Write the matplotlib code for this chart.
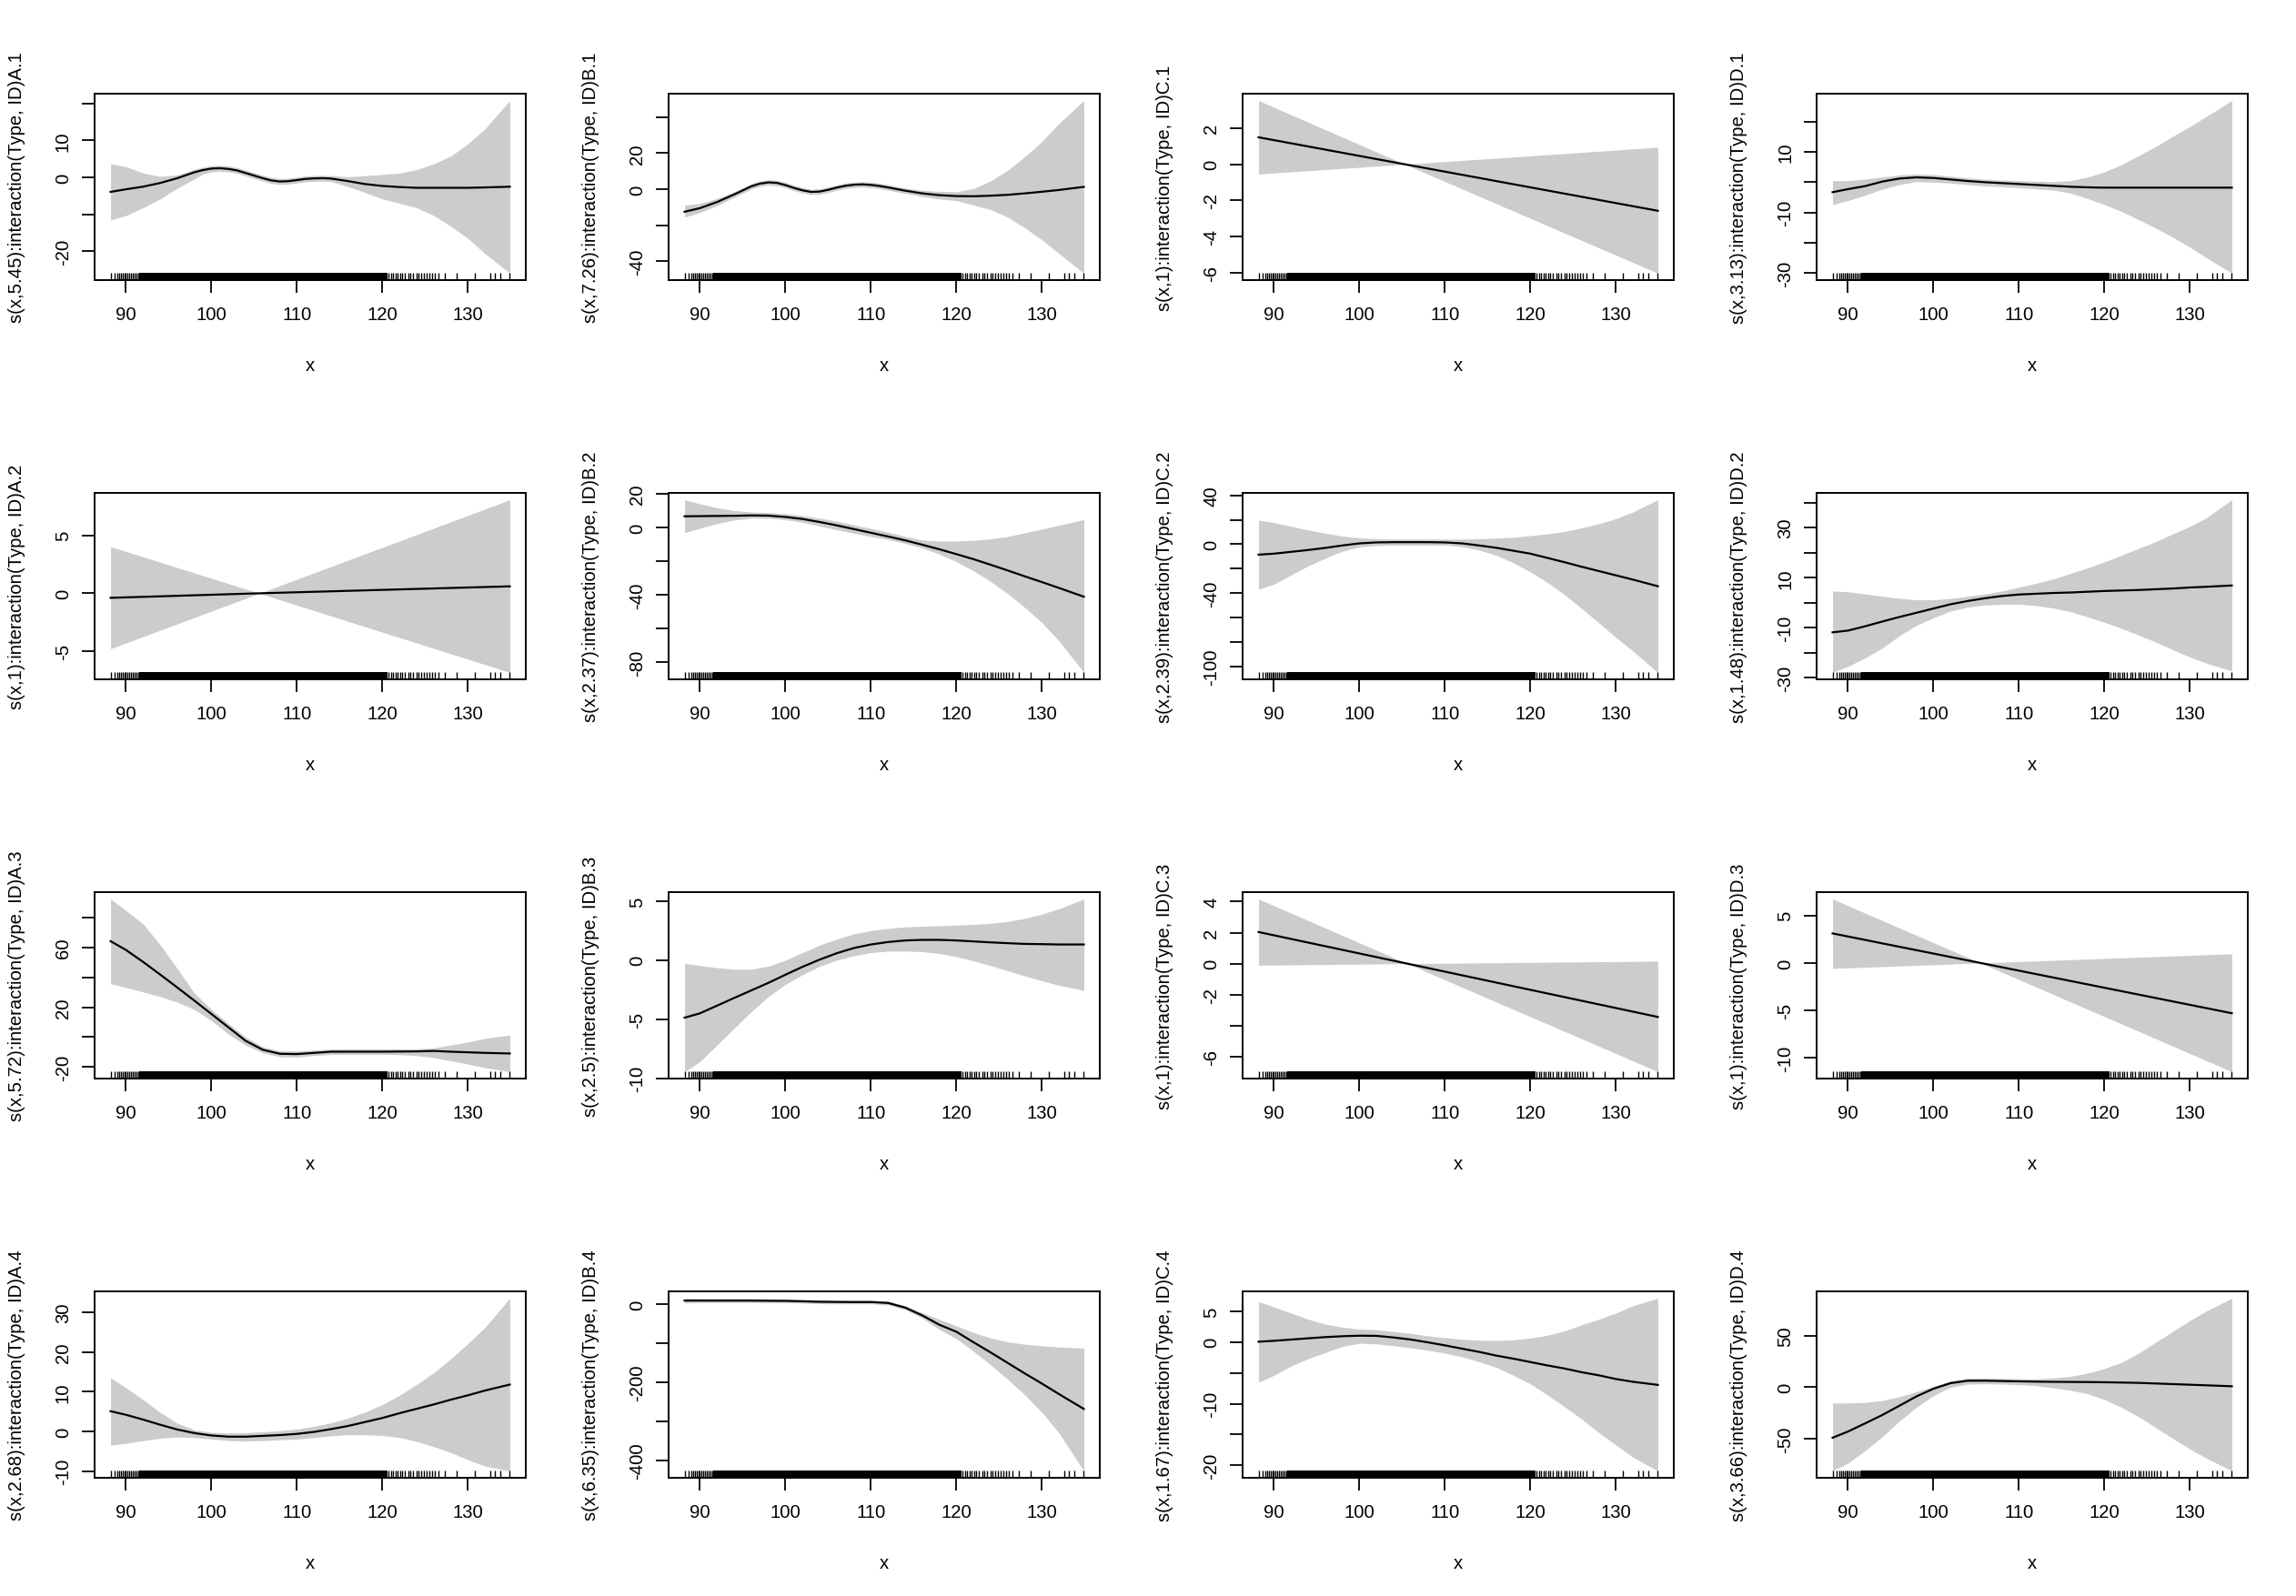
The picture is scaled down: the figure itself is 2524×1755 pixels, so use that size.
import matplotlib
matplotlib.use('Agg')
import matplotlib.pyplot as plt

plt.rcParams['font.family'] = ['Liberation Sans', 'DejaVu Sans']
plt.rcParams['axes.unicode_minus'] = False

# shared x grid for the smooth terms
grid = [88.2, 90, 92, 94, 96, 98, 100, 102, 104, 106, 108, 110, 112, 114,
        116, 118, 120, 122, 124, 126, 128, 130, 132, 134.9]

# rug of observed x
rug_left = [88.2, 88.7, 89.0, 89.2, 89.4, 89.6, 89.8, 90.0, 90.2, 90.4, 90.6,
            90.8, 91.0, 91.2, 91.4]
rug_dense = [91.5, 120.6]
rug_right = [120.7, 121.0, 121.25, 121.5, 121.8, 122.1, 122.35, 122.65, 123.0,
             123.3, 123.6, 123.95, 124.25, 124.5, 124.8, 125.2, 125.5, 125.8,
             126.1, 126.6, 127.35, 128.65, 130.8, 132.65, 133.2, 133.8, 134.9]

# row 1
a1_x = [88.2, 90, 92, 94, 96, 98, 99, 100, 101, 102, 103, 104, 105, 106, 107,
        108, 109, 110, 111, 112, 113, 114, 116, 118, 120, 122, 124, 126, 128,
        130, 132, 134.9]
a1_fit = [-3.9, -3.2, -2.5, -1.5, -0.2, 1.4, 2.0, 2.4, 2.5, 2.3, 1.9, 1.2, 0.5,
          -0.2, -0.8, -1.1, -1.0, -0.7, -0.4, -0.25, -0.2, -0.3, -1.0, -1.8,
          -2.3, -2.6, -2.8, -2.8, -2.8, -2.8, -2.7, -2.5]
a1_hi = [3.7, 2.9, 1.2, 0.3, 0.7, 2.2, 2.8, 3.2, 3.3, 3.1, 2.7, 2.0, 1.3, 0.6,
         0.0, -0.3, -0.2, 0.1, 0.4, 0.55, 0.6, 0.5, 0.2, 0.5, 0.8, 1.2, 2.1,
         3.7, 5.8, 9.1, 13.2, 20.8]
a1_lo = [-11.5, -10.3, -8.2, -5.8, -2.9, -0.4, 0.9, 1.5, 1.7, 1.5, 1.1, 0.4,
         -0.3, -1.0, -1.6, -1.9, -1.8, -1.5, -1.2, -1.05, -1.0, -1.1, -2.5,
         -4.1, -5.8, -7.0, -8.2, -10.3, -13.2, -16.5, -20.6, -25.9]

b1_x = [88.2, 90, 92, 94, 96, 97, 98, 99, 100, 101, 102, 103, 104, 105, 106,
        107, 108, 109, 110, 111, 112, 114, 116, 118, 120, 122, 124, 126, 128,
        130, 132, 134.9]
b1_fit = [-12.6, -10.6, -7.2, -3.0, 1.5, 3.0, 3.7, 3.4, 2.2, 0.6, -0.7, -1.6,
          -1.4, -0.4, 0.8, 1.8, 2.4, 2.6, 2.3, 1.7, 0.9, -0.9, -2.4, -3.4,
          -3.9, -4.0, -3.7, -3.2, -2.4, -1.5, -0.5, 1.2]
b1_hi = [-8.9, -8.0, -5.2, -1.5, 3.0, 4.5, 5.2, 4.9, 3.7, 2.1, 0.8, -0.1, 0.1,
         1.1, 2.3, 3.3, 3.9, 4.1, 3.8, 3.2, 2.4, 0.6, -0.7, -1.3, -1.5, 0.3,
         4.5, 10.4, 18.0, 26.4, 36.5, 49.1]
b1_lo = [-15.6, -13.0, -9.2, -4.5, 0.0, 1.5, 2.2, 1.9, 0.7, -0.9, -2.2, -3.1,
         -2.9, -1.9, -0.7, 0.3, 0.9, 1.1, 0.8, 0.2, -0.6, -2.4, -4.1, -5.5,
         -6.4, -8.9, -11.4, -15.6, -21.5, -28.2, -35.8, -46.7]

c1_x = [88.2, 105.3, 134.9]
c1_fit = [1.49, 0.0, -2.57]
c1_hi = [3.52, 0.0, 0.94]
c1_lo = [-0.54, 0.0, -6.02]

d1_fit = [-3.3, -2.3, -1.3, 0.2, 1.2, 1.6, 1.4, 0.9, 0.4, 0.0, -0.3, -0.6,
          -0.9, -1.2, -1.5, -1.7, -1.8, -1.8, -1.8, -1.8, -1.8, -1.8, -1.8, -1.8]
d1_hi = [0.5, 0.5, 1.0, 1.7, 2.4, 2.7, 2.5, 2.0, 1.4, 1.0, 0.7, 0.5, 0.3, 0.2,
         0.5, 1.7, 3.4, 5.8, 8.8, 11.8, 15.2, 18.4, 21.9, 27.0]
d1_lo = [-7.4, -6.1, -4.3, -2.3, -0.8, 0.2, 0.0, -0.3, -0.8, -1.2, -1.5, -1.8,
         -2.2, -2.6, -3.6, -5.4, -7.4, -9.7, -12.4, -15.2, -18.2, -21.5, -25.1, -30.1]

# row 2
a2_x = [88.2, 105.6, 134.9]
a2_fit = [-0.39, 0.0, 0.6]
a2_hi = [4.02, 0.0, 8.06]
a2_lo = [-4.78, 0.0, -6.82]

b2_fit = [6.7, 6.8, 6.9, 7.0, 7.2, 7.1, 6.3, 5.1, 3.3, 1.3, -0.9, -3.1, -5.3,
          -7.6, -10.2, -12.9, -15.8, -18.8, -22.1, -25.5, -29.0, -32.4, -35.9, -41.1]
b2_hi = [16.5, 14.1, 11.8, 10.1, 9.2, 8.9, 8.2, 7.1, 5.6, 3.8, 1.6, -0.5, -2.7,
         -5.3, -7.4, -8.0, -8.0, -7.6, -6.7, -5.3, -3.1, -0.9, 1.4, 4.7]
b2_lo = [-3.1, -0.4, 2.4, 4.5, 5.6, 5.6, 4.7, 3.1, 0.9, -1.3, -3.4, -5.3, -7.1,
         -9.4, -12.1, -15.8, -20.3, -25.7, -32.1, -39.3, -47.5, -56.5, -67.4, -86.1]

c2_fit = [-8.5, -7.7, -6.2, -4.7, -3.0, -1.0, 0.7, 1.5, 1.7, 1.7, 1.7, 1.5, 0.7,
          -1.0, -2.9, -5.3, -7.7, -11.2, -14.7, -18.4, -21.9, -25.4, -28.9, -34.3]
c2_hi = [19.7, 17.7, 14.7, 11.7, 9.0, 6.7, 5.2, 4.5, 4.2, 4.2, 4.2, 4.2, 4.2,
         4.5, 5.0, 5.7, 7.0, 8.5, 10.4, 13.4, 16.7, 20.9, 26.4, 36.3]
c2_lo = [-36.8, -32.6, -25.1, -17.7, -11.4, -5.7, -2.2, -1.0, -0.7, -0.7, -0.7,
         -0.7, -2.0, -4.7, -9.0, -15.2, -22.6, -31.3, -41.3, -52.5, -64.2, -76.1,
         -87.3, -104.7]

d2_fit = [-11.8, -11.1, -9.4, -7.5, -5.7, -4.0, -2.3, -0.6, 0.7, 1.8, 2.7, 3.3,
          3.6, 3.9, 4.1, 4.4, 4.7, 4.9, 5.1, 5.4, 5.7, 6.1, 6.4, 6.9]
d2_hi = [4.7, 4.4, 3.5, 2.6, 1.8, 1.2, 1.2, 1.7, 2.6, 3.5, 4.7, 6.2, 7.8, 9.5,
         11.7, 13.9, 16.3, 19.0, 21.7, 24.4, 27.5, 30.5, 34.1, 41.1]
d2_lo = [-27.8, -25.4, -22.0, -18.1, -13.2, -9.0, -6.0, -3.3, -1.7, -0.9, -0.6,
         -0.6, -1.1, -2.1, -3.5, -5.6, -7.8, -10.2, -12.9, -15.7, -18.7, -21.7,
         -24.2, -27.2]

# row 3
a3_fit = [64.4, 58.5, 50.5, 42.0, 33.3, 24.5, 15.5, 6.5, -2.5, -8.5, -11.2,
          -11.4, -10.6, -9.8, -9.8, -9.8, -9.8, -9.7, -9.6, -9.3, -9.8, -10.2,
          -10.6, -11.0]
a3_hi = [92.7, 85.0, 76.0, 62.0, 46.0, 29.5, 18.5, 9.0, 0.0, -6.5, -9.3, -9.3,
         -8.7, -8.1, -7.9, -7.9, -7.9, -7.9, -7.9, -7.3, -5.3, -3.3, -0.8, 1.4]
a3_lo = [35.8, 33.3, 30.3, 27.2, 23.5, 18.5, 11.0, 2.0, -5.5, -10.5, -13.2,
         -13.4, -12.4, -11.6, -11.6, -11.6, -11.6, -11.8, -12.4, -13.8, -15.9,
         -18.1, -20.5, -23.2]

b3_fit = [-4.87, -4.5, -3.85, -3.2, -2.56, -1.92, -1.23, -0.56, 0.05, 0.59,
          1.03, 1.33, 1.54, 1.67, 1.72, 1.72, 1.67, 1.59, 1.51, 1.44, 1.38,
          1.36, 1.33, 1.33]
b3_hi = [-0.26, -0.46, -0.64, -0.77, -0.77, -0.51, 0.0, 0.64, 1.28, 1.79, 2.23,
         2.51, 2.69, 2.82, 2.87, 2.92, 2.97, 3.03, 3.13, 3.28, 3.54, 3.90, 4.36, 5.18]
b3_lo = [-9.44, -8.59, -7.18, -5.77, -4.36, -3.08, -2.05, -1.23, -0.51, 0.0,
         0.38, 0.64, 0.77, 0.77, 0.72, 0.56, 0.31, -0.05, -0.46, -0.90, -1.33,
         -1.74, -2.13, -2.56]

c3_x = [88.2, 105.6, 134.9]
c3_fit = [2.04, 0.0, -3.44]
c3_hi = [4.17, 0.0, 0.16]
c3_lo = [-0.10, 0.0, -6.97]

d3_x = [88.2, 105.5, 134.9]
d3_fit = [3.11, 0.0, -5.29]
d3_hi = [6.73, 0.0, 0.96]
d3_lo = [-0.58, 0.0, -11.44]

# row 4
a4_fit = [5.1, 4.2, 3.0, 1.7, 0.5, -0.4, -1.0, -1.3, -1.3, -1.1, -0.9, -0.6,
          -0.1, 0.6, 1.4, 2.4, 3.4, 4.6, 5.7, 6.8, 8.0, 9.1, 10.3, 11.8]
a4_hi = [13.5, 11.0, 8.0, 4.8, 2.1, 0.4, -0.2, -0.4, -0.3, -0.1, 0.2, 0.6, 1.3,
         2.2, 3.4, 4.9, 6.8, 9.1, 11.8, 14.8, 18.3, 22.1, 26.2, 33.5]
a4_lo = [-3.4, -3.0, -2.3, -1.7, -1.4, -1.5, -1.9, -2.3, -2.4, -2.3, -2.1, -1.9,
         -1.5, -1.1, -0.8, -0.8, -1.0, -1.5, -2.5, -3.8, -5.3, -7.1, -8.7, -9.9]

b4_fit = [10.1, 10.1, 10.1, 10.1, 10.0, 9.6, 9.3, 8.2, 7.0, 6.5, 6.2, 6.2, 3.9,
          -8.0, -28.0, -52.0, -70.0, -97.0, -123.0, -150.0, -177.0, -203.0,
          -230.0, -268.0]
b4_hi = [16, 15, 15, 15, 15, 14.5, 14, 13, 12, 11.5, 11, 11, 9, -3, -21, -38,
         -55, -72, -86, -96, -102, -106, -109, -112]
b4_lo = [4, 5, 5, 5, 5, 4.5, 4.5, 3.5, 2, 1.5, 1.5, 1.5, -1, -13, -35, -64,
         -88, -120, -155, -192, -232, -277, -330, -427]

c4_fit = [0.05, 0.2, 0.4, 0.6, 0.8, 0.94, 1.03, 1.0, 0.74, 0.4, -0.05, -0.54,
          -1.08, -1.6, -2.2, -2.7, -3.25, -3.8, -4.3, -4.9, -5.4, -6.0, -6.45, -6.95]
c4_hi = [6.55, 5.7, 4.7, 3.7, 2.9, 2.4, 2.1, 2.0, 1.7, 1.4, 1.0, 0.7, 0.45, 0.3,
         0.25, 0.35, 0.65, 1.1, 1.8, 2.8, 3.7, 4.7, 5.9, 7.1]
c4_lo = [-6.5, -5.4, -3.9, -2.7, -1.7, -0.7, -0.2, -0.3, -0.6, -0.94, -1.33,
         -1.8, -2.4, -3.2, -4.1, -5.4, -6.8, -8.6, -10.5, -12.5, -14.7, -16.7,
         -18.7, -20.9]

d4_fit = [-49.1, -43.1, -35.2, -27.1, -18.1, -9.0, -1.5, 3.9, 6.3, 6.3, 6.0,
          5.7, 5.4, 5.2, 5.1, 5.0, 4.8, 4.5, 4.2, 3.6, 3.0, 2.4, 1.8, 0.9]
d4_hi = [-15.4, -15.4, -14.8, -13.0, -9.3, -4.5, 0.9, 6.3, 8.7, 9.0, 8.4, 8.1,
         8.1, 9.0, 10.5, 13.6, 18.1, 24.1, 33.1, 43.7, 54.2, 64.8, 74.4, 86.4]
d4_lo = [-81.3, -73.8, -61.7, -48.2, -33.1, -19.6, -8.1, 0.0, 3.0, 3.3, 3.0,
         2.4, 1.5, -0.6, -3.0, -6.3, -12.0, -19.6, -28.6, -39.2, -49.7, -60.2,
         -69.3, -81.3]

# y labels, ticks and which ticks carry a label (R drops crowded ones)
edf = ['5.45', '7.26', '1', '3.13',
       '1', '2.37', '2.39', '1.48',
       '5.72', '2.5', '1', '1',
       '2.68', '6.35', '1.67', '3.66']
levels = ['A', 'B', 'C', 'D']
yticks = [[-20, -10, 0, 10, 20], [-40, -20, 0, 20, 40], [-6, -4, -2, 0, 2],
          [-30, -20, -10, 0, 10, 20],
          [-5, 0, 5], [-80, -60, -40, -20, 0, 20],
          [-100, -80, -60, -40, -20, 0, 20, 40],
          [-30, -20, -10, 0, 10, 20, 30, 40],
          [-20, 0, 20, 40, 60, 80], [-10, -5, 0, 5], [-6, -4, -2, 0, 2, 4],
          [-10, -5, 0, 5],
          [-10, 0, 10, 20, 30], [-400, -300, -200, -100, 0],
          [-20, -15, -10, -5, 0, 5], [-50, 0, 50]]
ylabeled = [[-20, 0, 10], [-40, 0, 20], [-6, -4, -2, 0, 2], [-30, -10, 10],
            [-5, 0, 5], [-80, -40, 0, 20], [-100, -40, 0, 40], [-30, -10, 10, 30],
            [-20, 20, 60], [-10, -5, 0, 5], [-6, -2, 0, 2, 4], [-10, -5, 0, 5],
            [-10, 0, 10, 20, 30], [-400, -200, 0], [-20, -10, 0, 5], [-50, 0, 50]]
xticks = [90, 100, 110, 120, 130]

panels = [
    (a1_x, a1_fit, a1_hi, a1_lo), (b1_x, b1_fit, b1_hi, b1_lo),
    (c1_x, c1_fit, c1_hi, c1_lo), (grid, d1_fit, d1_hi, d1_lo),
    (a2_x, a2_fit, a2_hi, a2_lo), (grid, b2_fit, b2_hi, b2_lo),
    (grid, c2_fit, c2_hi, c2_lo), (grid, d2_fit, d2_hi, d2_lo),
    (grid, a3_fit, a3_hi, a3_lo), (grid, b3_fit, b3_hi, b3_lo),
    (c3_x, c3_fit, c3_hi, c3_lo), (d3_x, d3_fit, d3_hi, d3_lo),
    (grid, a4_fit, a4_hi, a4_lo), (grid, b4_fit, b4_hi, b4_lo),
    (grid, c4_fit, c4_hi, c4_lo), (grid, d4_fit, d4_hi, d4_lo),
]

W, H = 2524, 1756
fig = plt.figure(figsize=(W / 100, H / 100), dpi=100)

FS = 14.6
for i, (xs, fit, hi, lo) in enumerate(panels):
    r, c = divmod(i, 4)
    left = 104 + 631 * c
    top = 104 + 439 * r
    ax = fig.add_axes([left / W, (H - top - 205) / H, 474 / W, 205 / H])

    ax.fill_between(xs, lo, hi, color='#cccccc', lw=0)
    ax.plot(xs, fit, color='black', lw=1.6)

    # rug
    ax.vlines(rug_left + rug_right, 0, 0.04, color='black', lw=1.0,
              transform=ax.get_xaxis_transform())
    ax.axvspan(rug_dense[0], rug_dense[1], ymin=0, ymax=0.04,
               color='black', lw=0)

    xmin, xmax = min(xs), max(xs)
    xr = xmax - xmin
    ax.set_xlim(xmin - 0.04 * xr, xmax + 0.04 * xr)
    ymin, ymax = min(lo), max(hi)
    yr = ymax - ymin
    ax.set_ylim(ymin - 0.04 * yr, ymax + 0.04 * yr)

    ax.set_xticks(xticks)
    ax.set_xticklabels([str(t) for t in xticks], fontsize=FS)
    ax.set_yticks(yticks[i])
    ax.set_yticklabels([str(t) if t in ylabeled[i] else '' for t in yticks[i]],
                       fontsize=FS, rotation=90, va='center')
    ax.tick_params(direction='out', length=10, width=1.3)
    ax.tick_params(axis='x', pad=10)
    ax.tick_params(axis='y', pad=8)

    for s in ax.spines.values():
        s.set_linewidth(1.4)

    ax.set_xlabel('x', fontsize=FS)
    ax.xaxis.set_label_coords(0.5, -0.454)
    ax.xaxis.label.set_verticalalignment('center')
    ax.set_ylabel('s(x,%s):interaction(Type, ID)%s.%d' % (edf[i], levels[c], r + 1),
                  fontsize=FS)
    ax.yaxis.set_label_coords(-0.181, 0.5)
    ax.yaxis.label.set_verticalalignment('center')

fig.savefig('out.png', dpi=100, facecolor='white')
